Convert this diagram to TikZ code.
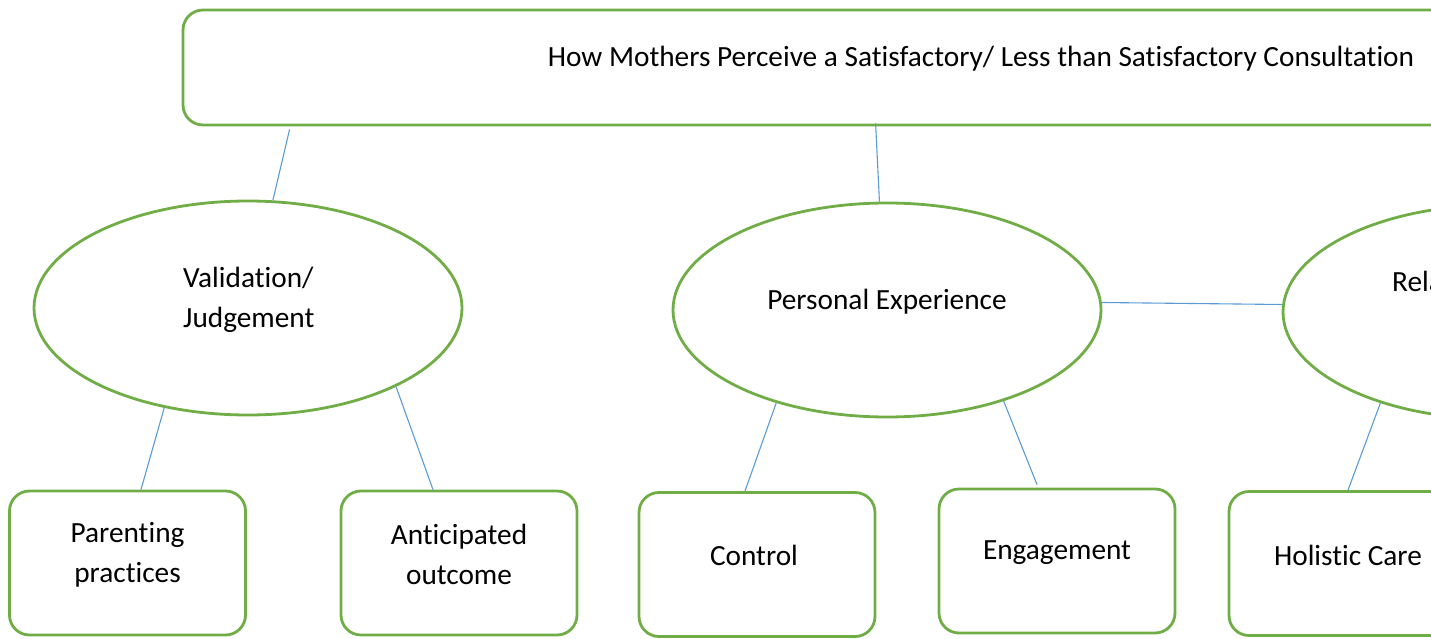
\documentclass[tikz,border=0pt]{standalone}
\usepackage{fontspec}
\setmainfont{Carlito}[Ligatures=NoCommon]
\usetikzlibrary{shapes.geometric}
\definecolor{grn}{HTML}{70AD47}
\definecolor{blu}{HTML}{5B9BD5}
\tikzset{
  oval/.style={ellipse, draw=grn, line width=2.8pt, minimum width=428pt, minimum height=214pt, inner sep=0pt},
  rbox/.style={rectangle, rounded corners=20pt, draw=grn, line width=2.8pt, minimum width=236pt, minimum height=144pt, inner sep=0pt},
  lbl/.style={font=\fontsize{29.3}{40}\selectfont, inner sep=0pt, text=black},
  conn/.style={draw=blu, line width=1.1pt}
}
\begin{document}
\begin{tikzpicture}[x=1pt,y=-1pt]
\useasboundingbox (0,0) rectangle (1431,639);
\clip (0,0) rectangle (1431,639);
% top box
\node[rbox, minimum width=1596pt, minimum height=115pt] (top) at (981,67.5) {};
\node[lbl] (toptxt) at (981,59) {How Mothers Perceive a Satisfactory/ Less than Satisfactory Consultation};
% ellipses
\node[oval] (e1) at (248,308) {};
\node[lbl, anchor=west, align=left] (e1txt) at (183,300) {Validation/\\Judgement};
\node[oval] (e2) at (887,310) {};
\node[lbl] (e2txt) at (887,302) {Personal Experience};
\node[oval] (e3) at (1497,312) {};
\node[lbl, anchor=west] (e3txt) at (1392,284) {Relationship};
% bottom boxes
\node[rbox] (b1) at (127.5,563) {};
\node[lbl, align=center] (b1txt) at (127.5,554.5) {Parenting\\practices};
\node[rbox] (b2) at (459,563) {};
\node[lbl, align=center] (b2txt) at (459,554.5) {Anticipated\\outcome};
\node[rbox] (b3) at (757,564.5) {};
\node[lbl] (b3txt) at (754,555) {Control};
\node[rbox] (b4) at (1057,561) {};
\node[lbl] (b4txt) at (1057,553) {Engagement};
\node[rbox] (b5) at (1347,563.5) {};
\node[lbl] (b5txt) at (1348,555) {Holistic Care};
% connectors
\draw[conn] ([xshift=108pt,yshift=-3pt]top.south west) -- (e1.77);
\draw[conn] ([xshift=694pt,yshift=3pt]top.south west) -- (e2.94);
\draw[conn] (e1.230.6) -- ([xshift=13.5pt]b1.north);
\draw[conn] (e1.332.8) -- ([xshift=-26pt]b2.north);
\draw[conn] (e2.220.2) -- ([xshift=-12pt]b3.north);
\draw[conn] (e2.322.8) -- ([xshift=-20pt,yshift=3pt]b4.north);
\draw[conn] (e2.2) -- (e3.178);
\draw[conn] (e3.218.5) -- ([xshift=1pt]b5.north);
\end{tikzpicture}
\end{document}
